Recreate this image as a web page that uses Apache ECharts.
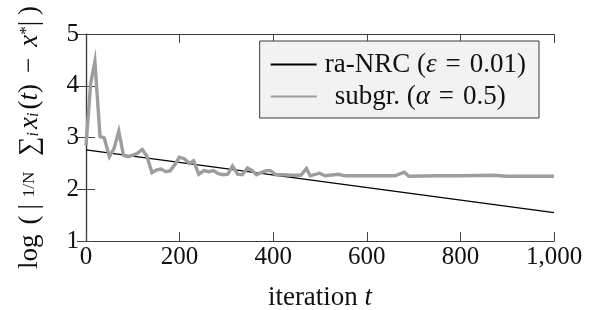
<!DOCTYPE html>
<html>
<head>
<meta charset="utf-8">
<script src="https://cdn.jsdelivr.net/npm/echarts@6/dist/echarts.min.js"></script>
<style>
  html, body { margin: 0; padding: 0; background: #fff; }
  #chart { width: 595px; height: 310px; }
</style>
</head>
<body>
<div id="chart"></div>
<script>
// ra-NRC: straight decay on the log scale
const nrcT = [0, 1000]
const nrcVal = [2.76, 1.55]

// subgradient method
const subgrT = [0, 10, 19, 30, 39, 50, 60, 70, 80, 90, 100, 109, 120, 130, 141, 150, 160, 171, 180, 192,
  199, 210, 221, 230, 241, 252, 262, 272, 283, 293, 303, 313, 324, 334, 345, 355, 364, 374, 385, 394,
  406, 420, 440, 459, 471, 479, 499, 511, 540, 552, 600, 660, 680, 690, 750, 800, 870, 900, 1000]
const subgrVal = [2.85, 4.05, 4.47, 3.02, 2.99, 2.63, 2.79, 3.12, 2.66, 2.63, 2.66, 2.69, 2.77, 2.64, 2.32, 2.37, 2.39, 2.34, 2.36, 2.50,
  2.62, 2.59, 2.50, 2.55, 2.29, 2.36, 2.34, 2.36, 2.30, 2.28, 2.29, 2.45, 2.29, 2.28, 2.41, 2.36, 2.28, 2.32, 2.36, 2.36,
  2.28, 2.28, 2.27, 2.27, 2.40, 2.26, 2.31, 2.26, 2.29, 2.26, 2.26, 2.26, 2.33, 2.25, 2.26, 2.26, 2.27, 2.25, 2.25]

const xTicks = [0, 200, 400, 600, 800, 1000]
const yTicks = [1, 2, 3, 4, 5]

const seriesNames = ['ra-NRC (ε = 0.01)', 'subgr. (α = 0.5)']

const font = 'Liberation Serif'
const fs = 25   // tick labels
const ts = 27   // names and legend
const frame = '#3a3a3a'
const ink = '#111'

function pairs(xs, ys) {
  return xs.map((x, i) => [x, ys[i]])
}

const chart = echarts.init(document.getElementById('chart'), null, { renderer: 'canvas' })

const tick = { show: true, inside: true, length: 9, lineStyle: { color: '#444', width: 1 } }
const line = { show: true, lineStyle: { color: frame, width: 1.2 } }

const roman = { fontFamily: font, fontSize: ts, color: ink, lineHeight: 24 }
const italic = { fontFamily: font, fontSize: ts, fontStyle: 'italic', color: ink, lineHeight: 24 }
const pad = (st, l, r) => Object.assign({}, st, { padding: [0, r, 0, l] })

chart.setOption({
  animation: false,
  grid: { left: 86, right: 41, top: 34, bottom: 69, outerBoundsMode: 'none' },
  legend: {
    right: 56,
    top: 41,
    orient: 'vertical',
    itemWidth: 46,
    itemHeight: 24,
    itemGap: 5,
    padding: [10, 13, 8, 10],
    backgroundColor: '#f2f2f2',
    borderColor: frame,
    borderWidth: 1,
    borderRadius: 0,
    itemStyle: { opacity: 0 },
    data: seriesNames,
    formatter: (name) => {
      if (name === seriesNames[0]) return '{a|ra-NRC (}{i|ε}{e|=}{r|0.01)}'
      return '{g| }{r|subgr. (}{i|α}{e|=}{r|0.5)}'
    },
    textStyle: {
      fontFamily: font,
      fontSize: ts,
      color: ink,
      rich: {
        r: roman,
        a: pad(roman, 3, 0),
        i: italic,
        e: pad(roman, 9, 9),
        g: { width: 13, lineHeight: 24 }
      }
    }
  },
  xAxis: [
    {
      type: 'value', position: 'bottom', min: 0, max: 1000, interval: 200,
      axisLine: line, axisTick: tick, splitLine: { show: false },
      axisLabel: {
        fontFamily: font, fontSize: fs, color: ink, margin: 4,
        formatter: (v) => xTicks.includes(v) ? v.toLocaleString('en-US') : ''
      },
      name: '{r|iteration }{i|t}',
      nameLocation: 'middle',
      nameGap: 45,
      nameTextStyle: { rich: { r: roman, i: italic } }
    },
    {
      type: 'value', position: 'top', min: 0, max: 1000, interval: 200,
      axisLine: line, axisTick: tick, axisLabel: { show: false }, splitLine: { show: false }
    }
  ],
  yAxis: [
    {
      type: 'value', position: 'left', min: 1, max: 5, interval: 1,
      axisLine: line, axisTick: tick, splitLine: { show: false },
      axisLabel: {
        fontFamily: font, fontSize: fs, color: ink, margin: 7,
        formatter: (v) => yTicks.includes(v) ? String(v) : ''
      },
      name: '{r|log}{p|(}{r||}{s|1/N}{m|∑}{sub|i}{i|x}{sub|i}{r|(}{i|t}{r|)}{e|−}{i|x}{sup|*}{r||}{q|)}',
      nameLocation: 'middle',
      nameRotate: 90,
      nameGap: 44,
      nameTextStyle: {
        rich: {
          r: roman,
          i: italic,
          p: pad(roman, 10, 6),
          q: pad(roman, 6, 0),
          e: pad(roman, 11, 11),
          m: pad(roman, 9, 0),
          s: { fontFamily: font, fontSize: 17, color: ink, padding: [0, 7, 0, 7] },
          sub: { fontFamily: font, fontSize: 16, fontStyle: 'italic', color: ink, verticalAlign: 'bottom', padding: [0, 3, 0, 0] },
          sup: { fontFamily: font, fontSize: 17, color: ink, verticalAlign: 'top' }
        }
      }
    },
    {
      type: 'value', position: 'right', min: 1, max: 5, interval: 1,
      axisLine: line, axisTick: tick, axisLabel: { show: false }, splitLine: { show: false }
    }
  ],
  series: [
    {
      name: seriesNames[0],
      type: 'line',
      data: pairs(nrcT, nrcVal),
      symbol: 'none',
      lineStyle: { color: '#000', width: 1.3 },
      itemStyle: { color: '#000' }
    },
    {
      name: seriesNames[1],
      type: 'line',
      data: pairs(subgrT, subgrVal),
      symbol: 'none',
      lineStyle: { color: '#9d9d9d', width: 3.4, join: 'miter' },
      itemStyle: { color: '#9d9d9d' }
    }
  ]
})
</script>
</body>
</html>
